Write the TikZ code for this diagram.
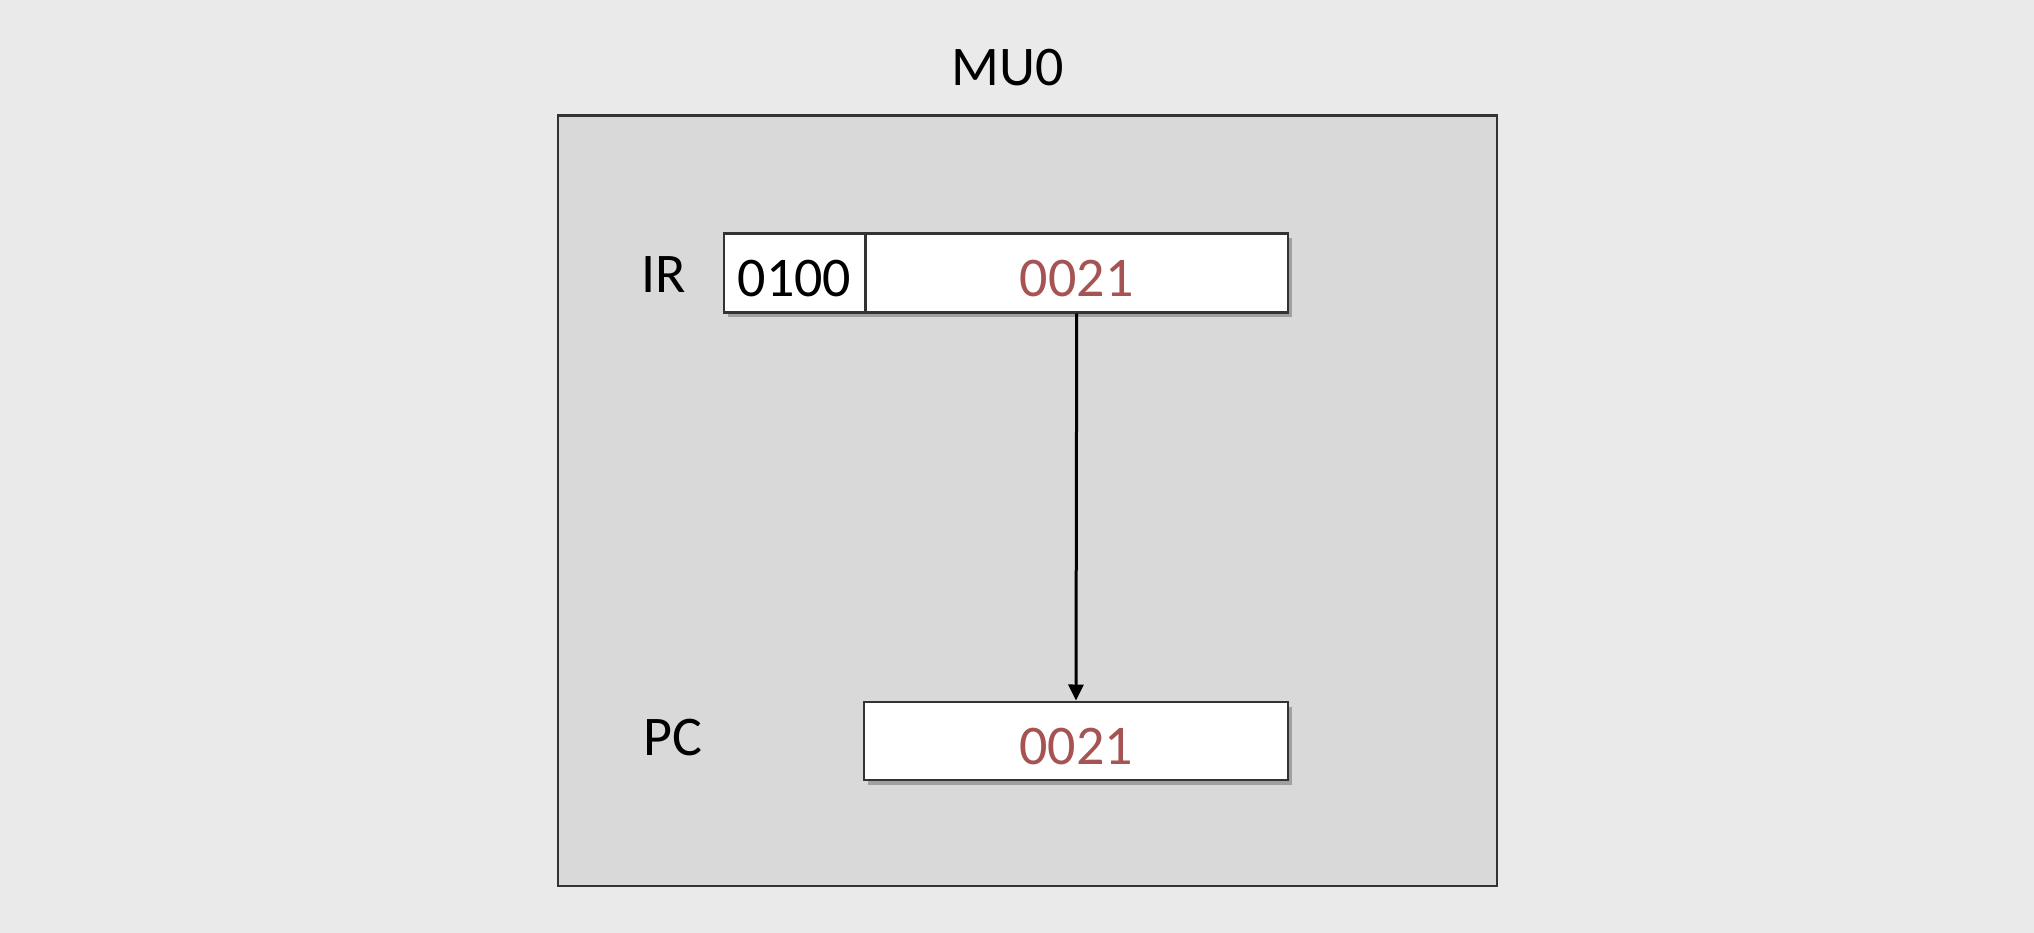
\documentclass[tikz,border=0pt]{standalone}
\usepackage{fontspec}
\setmainfont{Carlito}
\usetikzlibrary{arrows.meta,shadows}
\definecolor{bg}{HTML}{EAEAEA}
\definecolor{panel}{HTML}{D9D9D9}
\definecolor{edge}{HTML}{333333}
\definecolor{val}{HTML}{A55353}
\tikzset{
  reg/.style={draw=edge, line width=2.6pt, fill=white, inner sep=0pt,
    anchor=north west, font=\fontsize{56}{60}\selectfont, text height=48pt, text depth=0pt,
    drop shadow={shadow xshift=4pt, shadow yshift=-5pt, opacity=0.4, fill=black!70}},
  lbl/.style={font=\fontsize{56}{60}\selectfont, inner sep=0pt},
  conn/.style={line width=3pt, -{Triangle[width=15pt,length=16pt]}}
}
\begin{document}
\begin{tikzpicture}[x=1pt,y=-1pt]
\fill[bg] (0,0) rectangle (2034,933);
\useasboundingbox (0,0) rectangle (2034,933);
\node[lbl] (title) at (1008,68) {MU0};
\node[draw=edge, line width=2.6pt, fill=panel, anchor=north west, inner sep=0pt,
  minimum width=939pt, minimum height=770pt] (mu) at (556.5,114.5) {};
\node[reg, minimum width=141.5pt, minimum height=79pt] (iop) at (722.5,232) {0100};
\node[reg, minimum width=422.8pt, minimum height=79pt, text=val] (iarg) at (864,232) {0021};
\node[reg, minimum width=424.2pt, minimum height=78pt, text=val] (pc) at (862.6,700.5) {0021};
\node[lbl] (irl) at (664,275) {IR};
\node[lbl] (pcl) at (673,738) {PC};
\draw[conn] (iarg.south) -- (pc.north);
\end{tikzpicture}
\end{document}
